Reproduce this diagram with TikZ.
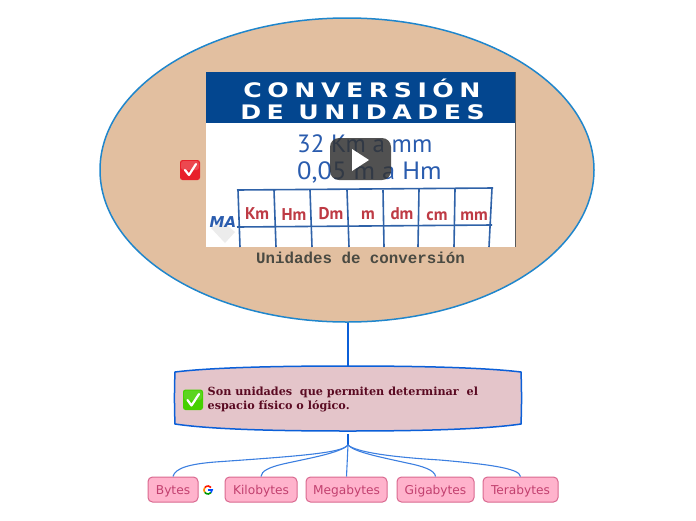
\documentclass[tikz,border=0pt]{standalone}
\usepackage{fontspec}
\setmainfont{DejaVu Serif}
\newfontfamily\leaffont{DejaVu Sans}
\newfontfamily\capfont{Liberation Mono}
\newfontfamily\headfont[LetterSpace=22]{DejaVu Sans}
\newfontfamily\handfont{PT Sans}
\usetikzlibrary{shapes.geometric}
\definecolor{ellfill}{HTML}{E2BFA0}
\definecolor{ellline}{HTML}{1F86CC}
\definecolor{boxfill}{HTML}{E4C5CA}
\definecolor{linkblue}{HTML}{0B5FD8}
\definecolor{boxtext}{HTML}{5A0A22}
\definecolor{leaffill}{HTML}{FFB3CC}
\definecolor{leafline}{HTML}{D9688F}
\definecolor{leaftext}{HTML}{C2406F}
\definecolor{headblue}{HTML}{03468F}
\definecolor{gridblue}{HTML}{2F62A8}
\definecolor{inkblue}{HTML}{2A5CAE}
\definecolor{inkred}{HTML}{BE3A44}
\definecolor{capgray}{HTML}{4A4A42}
\definecolor{tickred}{HTML}{E8202A}
\definecolor{tickgreen}{HTML}{45D000}
\tikzset{
  leafnode/.style={draw=leafline,fill=leaffill,rounded corners=4.5pt,line width=1pt,
    text=leaftext,font=\leaffont\fontsize{12.2}{14}\selectfont,minimum height=25pt,inner sep=0pt,
    text height=10pt,text depth=1pt,anchor=center},
  branch/.style={draw=linkblue!80,line width=1.1pt},
  gridline/.style={draw=gridblue,line width=1.6pt},
  unitlabel/.style={text=inkred,font=\handfont\bfseries\fontsize{17}{17}\selectfont,inner sep=0pt},
  handline/.style={text=inkblue,font=\handfont\fontsize{25}{25}\selectfont,inner sep=0pt,anchor=west},
  headline/.style={text=white,font=\headfont\bfseries\fontsize{20}{20}\selectfont,inner sep=0pt,text height=15pt,text depth=0pt},
  tickbox/.style={rounded corners=2.5pt},
  tickmark/.style={draw=white,line width=2.2pt,line cap=round,line join=round}
}
\begin{document}
\begin{tikzpicture}[x=1pt,y=-1pt]
\useasboundingbox (0,0) rectangle (696,520);
% main ellipse
\node[ellipse,draw=ellline,fill=ellfill,line width=1.5pt,minimum width=494pt,minimum height=304pt,inner sep=0pt] (topic) at (347,170) {};
% thumbnail
\fill[white] (206,72) rectangle (515.5,247);
\fill[headblue] (206,72) rectangle (515.5,123);
\draw[gray!70!black,line width=1pt] (515.5,72) -- (515.5,247);
\node[headline] (head1) at (362,89.5) {\scalebox{1.26}[1]{CONVERSIÓN}};
\node[headline] (head2) at (362.5,112) {\scalebox{1.26}[1]{DE UNIDADES}};
\node[handline] (hand1) at (297,144) {32 Km a mm};
\node[handline] (hand2) at (297,172) {\scalebox{1.06}[1]{0,05 m a Hm}};
\begin{scope}
\clip (206,123) rectangle (515.5,247);
\draw[gridline] (237,190) -- (493,188);
\draw[gridline] (237,227) -- (492,225);
\draw[gridline] (238,190) -- (240,247);
\draw[gridline] (274,190) -- (276,247);
\draw[gridline] (310,190) -- (312,247);
\draw[gridline] (347,190) -- (349,247);
\draw[gridline] (383,190) -- (384,247);
\draw[gridline] (419,189) -- (418,247);
\draw[gridline] (455,189) -- (454,247);
\draw[gridline] (492,188) -- (489,247);
\end{scope}
\node[unitlabel] (u1) at (257,214) {Km};
\node[unitlabel] (u2) at (294,215) {Hm};
\node[unitlabel] (u3) at (331,214) {Dm};
\node[unitlabel] (u4) at (368,215) {m};
\node[unitlabel] (u5) at (402,214) {dm};
\node[unitlabel] (u6) at (437,216) {cm};
\node[unitlabel] (u7) at (474,216) {mm};
\fill[gray!15] (211,228) -- (222,221) -- (235,232) -- (225,243) -- cycle;
\node[text=inkblue,font=\leaffont\bfseries\itshape\fontsize{15}{15}\selectfont,inner sep=0pt] (logo) at (223,222) {MA};
% play button
\fill[black!80,opacity=.85,rounded corners=9pt] (330,138) rectangle (391,180);
\fill[white] (352,149) -- (369,160) -- (352,171) -- cycle;
% caption
\node[text=capgray,font=\capfont\bfseries\fontsize{15.8}{17}\selectfont,inner sep=0pt] (caption) at (360.5,258) {Unidades de conversión};
% red tick
\fill[tickred,tickbox] (180,160) rectangle (200,180);
\fill[white,opacity=.18,tickbox] (181,161) rectangle (199,170);
\draw[tickmark] (185,170) -- (189,175) -- (196,164);
% connector topic - definition
\coordinate (defnorth) at (348,366);
\draw[draw=linkblue,line width=2.4pt] (defnorth |- topic.south) -- (defnorth);
% definition box
\coordinate (defsouth) at (348,431);
\draw[draw=linkblue,fill=boxfill,line width=1.5pt]
  (175,372) .. controls (215,367) and (290,366) .. (defnorth)
  .. controls (405,366) and (480,367) .. (521,372)
  .. controls (521.7,390) and (521.7,406) .. (521,424)
  .. controls (480,430) and (405,431) .. (defsouth)
  .. controls (290,431) and (215,430) .. (175,424)
  .. controls (174.3,406) and (174.3,390) .. (175,372) -- cycle;
\fill[tickgreen,tickbox] (183,389.5) rectangle (203,410);
\fill[white,opacity=.12,tickbox] (184,390.5) rectangle (202,400);
\draw[tickmark] (187.5,400) -- (191.5,405.5) -- (199,394);
\node[text=boxtext,font=\bfseries\fontsize{11.2}{14}\selectfont,align=left,anchor=west,inner sep=0pt] (deftext) at (207.5,399)
  {Son unidades\ \ que permiten determinar\ \ el\\espacio físico o lógico.};
% leaves
\node[leafnode,minimum width=50pt] (bytes) at (173,489.5) {Bytes};
\node[leafnode,minimum width=72pt] (kilo) at (261,489.5) {Kilobytes};
\node[leafnode,minimum width=81pt] (mega) at (346.5,489.5) {Megabytes};
\node[leafnode,minimum width=77pt] (giga) at (435.5,489.5) {Gigabytes};
\node[leafnode,minimum width=75pt] (tera) at (520.5,489.5) {Terabytes};
% hub and branches
\coordinate (hub) at (348,445);
\draw[draw=linkblue,line width=2pt,shorten <=3pt] (defsouth) -- (hub);
\draw[branch] (hub) .. controls (342,453) and (300,456) .. (215,462) .. controls (190,464) and (175,468) .. (bytes.north);
\draw[branch] (hub) .. controls (340,453) and (310,458) .. (283,464) .. controls (270,467) and (261,471) .. (kilo.north);
\draw[branch] (hub) -- (mega.north);
\draw[branch] (hub) .. controls (354,452) and (380,457) .. (407,463) .. controls (422,466) and (435,470) .. (giga.north);
\draw[branch] (hub) .. controls (356,452) and (390,457) .. (440,460) .. controls (485,464) and (520,468) .. (tera.north);
% G mark
\begin{scope}[shift={(208,490)},yscale=-1,line width=1.6pt]
\draw[draw=red!80!orange] (145:4) arc (145:40:4);
\draw[draw=orange!90!yellow] (145:4) arc (145:215:4);
\draw[draw=green!60!black] (215:4) arc (215:320:4);
\draw[draw=blue!70!cyan] (0.2,0) -- (4,0) arc (0:-40:4);
\end{scope}
\end{tikzpicture}
\end{document}
